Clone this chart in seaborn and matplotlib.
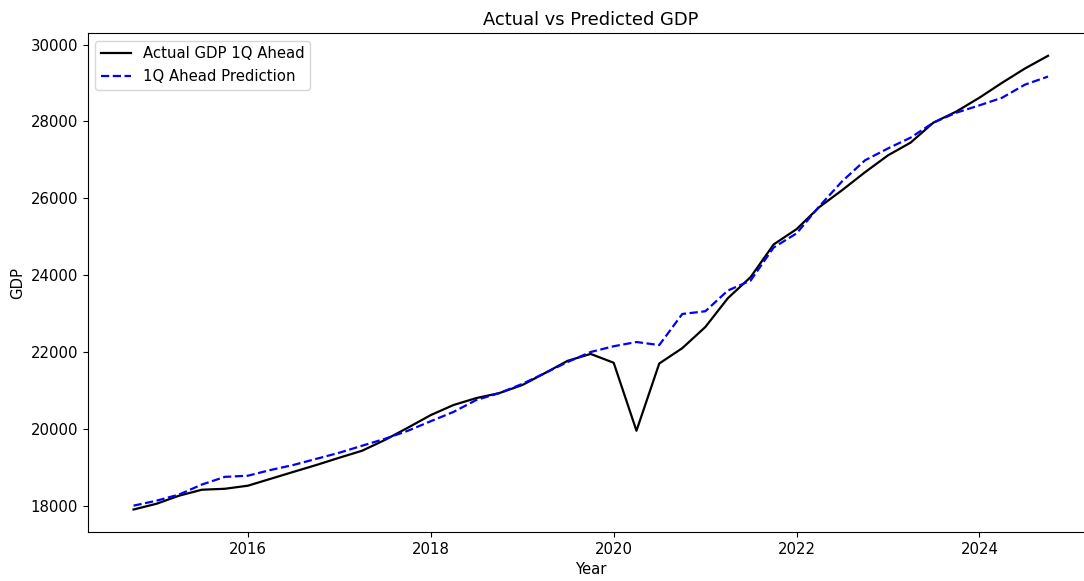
import matplotlib
matplotlib.use("Agg")
import matplotlib.pyplot as plt
import seaborn as sns
import pandas as pd

# Trimestres 2014Q4 - 2024Q4
fechas = pd.date_range("2014-10-01", "2024-10-01", freq="QS")

# Valores
gdp_real = [17900, 18050, 18260, 18415, 18440, 18520, 18700, 18880, 19060, 19250,
            19430, 19710, 20030, 20360, 20620, 20800, 20930, 21140, 21450, 21770,
            21950, 21720, 19950, 21700, 22100, 22650, 23400, 23950, 24800, 25200,
            25770, 26210, 26680, 27120, 27450, 27970, 28260, 28620, 29010, 29380,
            29710]
gdp_pred = [18000, 18130, 18290, 18550, 18750, 18780, 18930, 19060, 19220, 19380,
            19560, 19740, 19950, 20200, 20440, 20750, 20930, 21170, 21450, 21740,
            22000, 22150, 22260, 22180, 22990, 23060, 23600, 23860, 24720, 25090,
            25790, 26440, 26990, 27300, 27580, 27970, 28230, 28420, 28620, 28960,
            29170]

data = pd.DataFrame({"Year": fechas, "real": gdp_real, "pred": gdp_pred})

plt.rcParams["font.size"] = 10.7

fig, ax = plt.subplots(figsize=(10.84, 5.81), dpi=100)
fig.subplots_adjust(left=0.081, right=1.009, top=0.943, bottom=0.084)

sns.lineplot(data=data, x="Year", y="real", color="black", linewidth=1.6,
             label="Actual GDP 1Q Ahead", ax=ax)
sns.lineplot(data=data, x="Year", y="pred", color="blue", linewidth=1.6,
             linestyle="--", label="1Q Ahead Prediction", ax=ax)

ax.set_title("Actual vs Predicted GDP")
ax.set_xlabel("Year")
ax.set_ylabel("GDP")
ax.legend(loc="upper left")

fig.savefig("out.png", dpi=100)
